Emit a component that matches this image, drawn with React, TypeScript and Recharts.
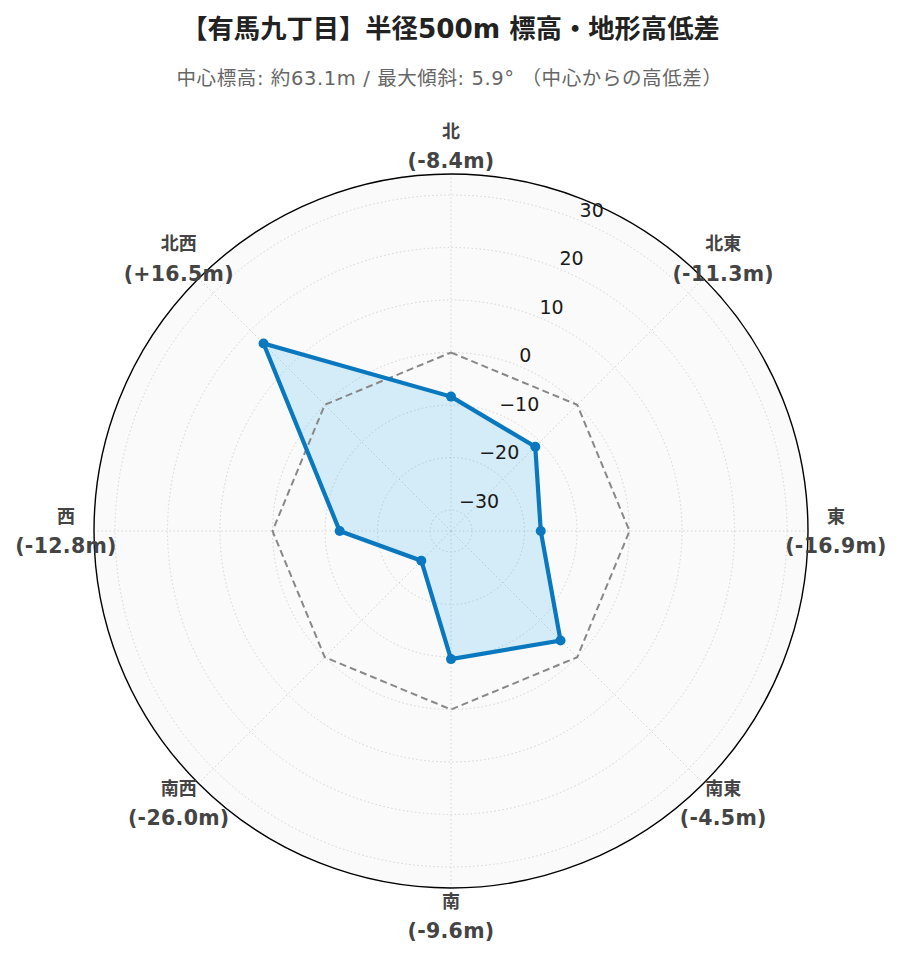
import React from 'react';
import {
  RadarChart,
  Radar,
  PolarGrid,
  PolarAngleAxis,
  PolarRadiusAxis,
  Customized,
} from 'recharts';

const directions = ['北', '北東', '東', '南東', '南', '南西', '西', '北西'];
const elevationDiffs = [-8.4, -11.3, -16.9, -4.5, -9.6, -26.0, -12.8, 16.5];
const zeroLine = [0, 0, 0, 0, 0, 0, 0, 0];
const radialTicks = [-30, -20, -10, 0, 10, 20, 30];
const radialDomain = [-33.8, 33.8];
const titleText = '【有馬九丁目】半径500m 標高・地形高低差';
const subtitleText = '中心標高: 約63.1m / 最大傾斜: 5.9° （中心からの高低差）';

const data = directions.map((d, i) => ({
  dir: d,
  diff: elevationDiffs[i],
  zero: zeroLine[i],
}));

const W = 883;
const H = 946;
const CX = 443;
const CY = 523;
const R = 357;
const LABEL_R = 385;

const LATIN = '"DejaVu Sans", "Noto Sans CJK JP", sans-serif';

const fmtDiff = (v: number) => `(${v > 0 ? '+' : ''}${v.toFixed(1)}m)`;
const fmtTick = (v: number) => (v < 0 ? `\u2212${Math.abs(v)}` : `${v}`);

const AngleTick = (props: any) => {
  const { payload, index } = props;
  const i = typeof index === 'number' ? index : directions.indexOf(payload.value);
  const ang = ((90 - i * 45) * Math.PI) / 180;
  const x = CX + LABEL_R * Math.cos(ang);
  const y = CY - LABEL_R * Math.sin(ang);
  return (
    <g>
      <text
        x={x}
        y={y - 15}
        textAnchor="middle"
        dominantBaseline="central"
        fontFamily={LATIN}
        fontWeight="bold"
        fontSize={18}
        fill="#444"
      >
        {payload.value}
      </text>
      <text
        x={x}
        y={y + 15}
        textAnchor="middle"
        dominantBaseline="central"
        fontFamily={LATIN}
        fontWeight="bold"
        fontSize={20.5}
        letterSpacing={0.3}
        fill="#444"
      >
        {fmtDiff(elevationDiffs[i])}
      </text>
    </g>
  );
};

const RadiusTick = (props: any) => {
  const { x, y, payload } = props;
  return (
    <text
      x={x}
      y={y - 4}
      textAnchor="start"
      fontFamily={LATIN}
      fontSize={19}
      fill="#1a1a1a"
    >
      {fmtTick(payload.value)}
    </text>
  );
};

const MainDot = (props: any) => {
  const { cx, cy } = props;
  if (cx == null || cy == null) return null;
  return <circle cx={cx} cy={cy} r={5} fill="#0a78be" stroke="none" />;
};

const Titles = () => (
  <g>
    <text
      x={W / 2 + 1}
      y={20.5}
      textAnchor="middle"
      dominantBaseline="central"
      fontFamily={LATIN}
      fontWeight="bold"
      fontSize={26.3}
      fill="#222"
    >
      {titleText}
    </text>
    <text
      x={W / 2}
      y={70}
      textAnchor="middle"
      dominantBaseline="central"
      fontFamily={LATIN}
      fontSize={19.5}
      letterSpacing={0.6}
      fill="#666"
    >
      {subtitleText}
    </text>
  </g>
);

export default function App() {
  return (
    <div style={{ width: W, height: H, position: 'relative' }}>
      <div
        style={{
          position: 'absolute',
          left: CX - R,
          top: CY - R,
          width: 2 * R,
          height: 2 * R,
          borderRadius: '50%',
          background: '#fafafa',
        }}
      />
      <div style={{ position: 'absolute', left: 0, top: 0 }}>
        <RadarChart
          width={W}
          height={H}
          data={data}
          cx={CX}
          cy={CY}
          outerRadius={R}
          innerRadius={0}
          startAngle={90}
          endAngle={-270}
          margin={{ top: 0, right: 0, bottom: 0, left: 0 }}
        >
          <PolarGrid
            gridType="circle"
            stroke="#d4d4d4"
            strokeDasharray="1.5 2.5"
            strokeWidth={1}
          />
          <PolarAngleAxis
            dataKey="dir"
            axisLineType="circle"
            axisLine={{ stroke: '#000', strokeWidth: 1.4 }}
            tickLine={false}
            tick={<AngleTick />}
          />
          <PolarRadiusAxis
            type="number"
            domain={radialDomain}
            ticks={radialTicks as any}
            angle={67.5}
            axisLine={false}
            tickLine={false}
            tick={<RadiusTick />}
            allowDataOverflow
          />
          <Radar
            dataKey="diff"
            stroke="none"
            fill="#3cb4f0"
            fillOpacity={0.2}
            isAnimationActive={false}
            dot={false}
          />
          <Radar
            dataKey="zero"
            stroke="#888"
            strokeWidth={2}
            strokeDasharray="7 4"
            fill="none"
            fillOpacity={0}
            isAnimationActive={false}
            dot={false}
          />
          <Radar
            dataKey="diff"
            stroke="#0a78be"
            strokeWidth={4.2}
            fill="none"
            fillOpacity={0}
            isAnimationActive={false}
            dot={<MainDot />}
          />
          <Customized component={Titles} />
        </RadarChart>
      </div>
    </div>
  );
}
